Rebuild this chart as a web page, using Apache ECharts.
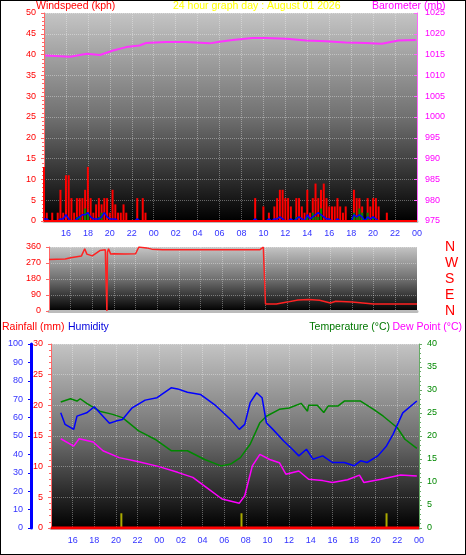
<!DOCTYPE html>
<html><head><meta charset="utf-8">
<script src="https://cdn.jsdelivr.net/npm/echarts@6/dist/echarts.min.js"></script>
<style>html,body{margin:0;padding:0;background:#fff}#c{width:466px;height:555px;box-sizing:border-box;border:1px solid #000}</style>
</head><body><div id="c"></div>
<script>
// wind gusts, 0.25 h steps starting at hour 14.0 (hours past midnight of day 1)
const windStart = 14.0, windStep = 0.25;
const windGust = [13,2,0,2,0,2,7.5,2, 11,11,5.5,2,5.5,5.5,5.5,7.5, 13,5.5,2,4,5.5,4,5.5,5.5, 2,7.5,4,2,2,4,2,0, 0,0,5.5,0,5.5,2,0,0,
 0,0,0,0,0,0,0,0,0,0,0,0,0,0,0,0,0,0,0,0,0,0,0,0,0,0,0,0,0,0,0,0,0,0,0,0,
 0,5.5,0,0, 3.5,0,2,0,3.5,5.5,7.5,7.5, 5.5,5.5,3.5,0,5.5,5.5,3.5,2, 7.5,2,5.5,9,5.5,7.5,9,5.5, 3.5,3.5,3.5,5.5,3.5,2,3.5,0, 0,7.5,5.5,5.5,3.5,0,5.5,3.5, 5.5,5.5,3.5,0,0,2,0,0, 0,0,0,0,0,0,0,0,0];
const windAvg = [0.5,0.5,0,0,0,0,0.5,0.5, 1.5,0.5,0,0,0.5,1,1.5,1.5, 2,1,0.5,0.5,0.5,1,2,1, 0.5,0.5,0.5,0,0,0,0,0, 0,0,0.5,0,0,0,0,0,
 0,0,0,0,0,0,0,0,0,0,0,0,0,0,0,0,0,0,0,0,0,0,0,0,0,0,0,0,0,0,0,0,0,0,0,0,
 0,0.5,0,0, 0,0,0.5,0,0.5,0.5,1,0.5, 0,0,0.5,0,0.5,1,0.5,0, 1.5,0.5,1,1.5,2,1.5,1,0.5, 0.5,0,0,0.5,0,0,0,0, 0,1.5,1,1.5,1,0,1,0.5, 1,0.5,0,0,0,0,0,0, 0,0,0,0,0,0,0,0,0];
const windDir2 = [0,0,0,0,0,0,0,0, 0,0,0,0,1,1,0,3, 2,0,0,0,1,2,0,0, 0,0,0,0,0,0,0,0, 0,0,0,0,0,0,0,0,
 0,0,0,0,0,0,0,0,0,0,0,0,0,0,0,0,0,0,0,0,0,0,0,0,0,0,0,0,0,0,0,0,0,0,0,0,
 0,0,0,0, 0,0,0,0,0,0,0,0, 0,0,0,0,1,0,0,0, 1,0,2,1,1,3,0,0, 0,0,0,0,0,0,0,0, 0,2,1,3,2,0,2,0, 1,0,0,0,0,0,0,0, 0,0,0,0,0,0,0,0,0];

const baroHours = [14.1,16.4,17.9,19.1,20.3,21.5,22.7,23.3,25.1,26.9,29.1,30.0,31.2,33.0,34.2,36.1,37.9,39.7,41.5,43.3,44.8,46.3,47.9];
const baroVals  = [1014.8,1014.5,1015.2,1014.9,1016.0,1016.8,1017.2,1017.8,1018.0,1018.0,1017.7,1018.1,1018.5,1019.0,1019.0,1018.8,1018.4,1018.2,1017.9,1017.8,1017.6,1018.4,1018.5];

const dirHours = [14.0,15.5,16.0,17.0,17.3,17.5,18.0,18.7,19.2,19.35,19.4,19.5,19.7,20.0,21.0,22.0,22.3,23.0,23.5,24.5,33.5,33.8,33.9,34.0,35.0,36.0,37.0,38.0,39.0,40.0,40.5,42.0,43.0,44.0,48.0];
const dirVals  = [290,292,300,310,350,320,310,340,345,0,330,350,320,322,320,322,360,355,348,345,345,360,360,40,40,50,62,65,60,45,55,50,45,40,40];

const tempHours = [14.9,15.8,16.4,16.7,17.3,18.5,19.7,20.6,22.1,23.6,25.1,26.6,28.2,29.7,30.6,31.5,32.4,33.3,33.9,35.1,36.0,37.1,37.7,37.8,38.6,39.2,39.6,40.5,41.1,42.0,42.6,43.8,44.7,46.0,46.7,47.8];
const tempVals  = [27.4,28.1,27.6,28.1,27.1,25.4,24.7,24.0,21.1,19.3,16.8,16.8,14.9,13.5,13.9,15.3,18.2,22.9,24.3,25.8,26.1,27.1,25.4,26.7,26.7,25.1,26.5,26.5,27.6,27.6,27.6,25.8,24.3,21.8,19.3,17.3];
const humHours = [14.9,15.3,16.1,16.4,17.3,18.0,18.5,19.4,20.0,20.6,21.5,22.7,23.8,25.1,25.7,26.6,27.8,29.1,30.6,31.4,31.9,32.4,33.0,33.5,33.9,34.5,35.5,36.3,36.9,37.6,38.2,39.1,40.0,41.1,42.0,42.6,43.2,44.2,45.0,45.6,46.5,47.8];
const humVals  = [62.6,56.3,53.6,60.8,62.6,65.9,62.6,56.9,58.1,59.0,65.3,69.5,70.8,76.2,75.6,73.8,72.6,67.1,59.0,53.6,56.3,68.1,73.5,70.8,57.2,53.6,47.3,42.8,39.2,42.8,37.4,39.2,35.6,35.6,33.8,36.5,35.6,39.2,44.6,50.9,62.6,69.0];
const dewHours = [14.9,16.1,16.6,17.9,18.8,20.3,22.1,23.9,25.7,27.1,28.6,29.8,31.4,31.9,32.6,33.3,34.2,35.1,35.7,36.9,37.8,39.1,40.0,41.4,42.5,42.9,44.5,46.3,47.8];
const dewVals  = [19.4,17.8,19.4,18.7,16.8,15.3,14.4,13.4,12.1,11.0,8.4,6.3,5.4,7.0,13.5,16.0,14.9,14.2,11.7,12.4,10.6,10.3,9.9,10.5,11.5,9.9,10.6,11.5,11.3];
const rainHours = [14.0,48.0];
const rainVals  = [0,0];
const rainMarkHours = [20.5,31.6,45.0];
const rainMarkVals  = [2.4,2.4,2.4];

const xTickInterval = 2;
const titleText = '24 hour graph day : August 01 2026';

const pair = (h, v) => h.map((x, i) => [x, v[i]]);
const stepPair = arr => arr.map((v, i) => [windStart + i * windStep, v]);

const F = 'Liberation Sans, Arial, sans-serif';
const bg = {type:'linear',x:0,y:0,x2:0,y2:1,colorStops:[{offset:0,color:'#c4c4c4'},{offset:0.5,color:'#707070'},{offset:1,color:'#000'}]};
const split = {show:true,lineStyle:{color:'rgba(255,255,255,0.35)',type:'dotted',width:1}};
function xAx(gi, showLabel){
  return {type:'value',gridIndex:gi,min:14,max:48,interval:xTickInterval,
    axisLine:{show:true,lineStyle:{color:'#bbb',width:3}},axisTick:{show:false},
    splitLine:split,
    axisLabel:{show:showLabel,showMinLabel:false,color:'#3333ff',fontSize:9,fontFamily:F,
      formatter:v=>String(v%24).padStart(2,'0')}};
}
const grids = [
  {left:43,right:48,top:12,height:208,show:true,backgroundColor:bg,borderWidth:0},
  {left:48,right:48,top:246,height:64,show:true,backgroundColor:bg,borderWidth:0},
  {left:50,right:46,top:343,height:184,show:true,backgroundColor:bg,borderWidth:0}
];
const dirNames = {0:'N',90:'E',180:'S',270:'W',360:'N'};
const chart = echarts.init(document.getElementById('c'));
chart.setOption({
  animation:false,
  backgroundColor:'#fff',
  grid:grids,
  graphic:[
    {type:'text',left:35,top:0,style:{text:'Windspeed (kph)',fill:'#ff0000',font:'10.5px '+F}},
    {type:'text',left:172,top:0,style:{text:titleText,fill:'#ffff00',font:'10.5px '+F}},
    {type:'text',left:371,top:0,style:{text:'Barometer (mb)',fill:'#ff00ff',font:'10.5px '+F}},
    {type:'text',left:1,top:321,style:{text:'Rainfall (mm)',fill:'#ff0000',font:'10.5px '+F}},
    {type:'text',left:67,top:321,style:{text:'Humidity',fill:'#0000dd',font:'10.5px '+F}},
    {type:'text',right:75,top:321,style:{text:'Temperature (°C)',fill:'#007700',font:'10.5px '+F}},
    {type:'text',right:3,top:321,style:{text:'Dew Point (°C)',fill:'#ff00ff',font:'10.5px '+F}}
  ],
  xAxis:[xAx(0,true),xAx(1,false),xAx(2,true)],
  yAxis:[
    {type:'value',gridIndex:0,min:0,max:50,interval:5,position:'left',
     axisLine:{show:true,lineStyle:{color:'#ff6666',width:1}},axisTick:{show:true,length:3,lineStyle:{color:'#ff6666'}},minorTick:{show:true,splitNumber:5,length:2,lineStyle:{color:'#ff6666'}},
     axisLabel:{color:'#ff0000',fontSize:9,fontFamily:F},splitLine:split},
    {type:'value',gridIndex:0,min:975,max:1025,interval:5,position:'right',
     axisLine:{show:true,lineStyle:{color:'#ff66ff'}},axisTick:{show:true,length:3,inside:true},
     axisLabel:{color:'#ff00ff',fontSize:9,fontFamily:F,formatter:v=>String(v)},splitLine:{show:false}},
    {type:'value',gridIndex:1,min:0,max:360,interval:90,position:'left',
     axisLine:{show:true,lineStyle:{color:'#ff6666'}},axisTick:{show:true,length:3},
     axisLabel:{color:'#ff0000',fontSize:9,fontFamily:F},splitLine:split},
    {type:'value',gridIndex:1,min:0,max:360,interval:90,position:'right',offset:20,
     axisLine:{show:false},axisTick:{show:false},
     axisLabel:{color:'#ff0000',fontSize:14,fontFamily:F,formatter:v=>dirNames[v]},splitLine:{show:false}},
    {type:'value',gridIndex:2,min:0,max:30,interval:5,position:'left',
     axisLine:{show:true,lineStyle:{color:'#ff6666'}},axisTick:{show:true,length:3},minorTick:{show:true,splitNumber:5,length:2,lineStyle:{color:'#ff6666'}},
     axisLabel:{color:'#ff0000',fontSize:9,fontFamily:F},splitLine:split},
    {type:'value',gridIndex:2,min:0,max:100,interval:10,position:'left',offset:20,
     axisLine:{show:true,lineStyle:{color:'#0000ff',width:3}},axisTick:{show:true,length:3,lineStyle:{color:'#0000ff',width:1}},
     axisLabel:{color:'#3333ff',fontSize:9,fontFamily:F},splitLine:{show:false}},
    {type:'value',gridIndex:2,min:0,max:40,interval:5,position:'right',
     axisLine:{show:true,lineStyle:{color:'#66aa66'}},axisTick:{show:true,length:3,lineStyle:{color:'#66aa66'}},minorTick:{show:true,splitNumber:5,length:2,lineStyle:{color:'#66aa66'}},
     axisLabel:{color:'#008800',fontSize:9,fontFamily:F},splitLine:{show:false}}
  ],
  series:[
    {type:'bar',xAxisIndex:0,yAxisIndex:0,data:stepPair(windGust),barWidth:2,itemStyle:{color:'#ff0000'},barGap:'-100%'},
    {type:'bar',xAxisIndex:0,yAxisIndex:0,data:stepPair(windDir2),barWidth:2,itemStyle:{color:'#008800'}},
    {type:'line',xAxisIndex:0,yAxisIndex:0,data:stepPair(windAvg),showSymbol:false,lineStyle:{color:'#0000ff',width:1.5}},
    {type:'line',xAxisIndex:0,yAxisIndex:0,data:[[14,0],[48,0]],showSymbol:false,lineStyle:{color:'#ff0000',width:2}},
    {type:'line',xAxisIndex:0,yAxisIndex:1,data:pair(baroHours,baroVals),showSymbol:false,lineStyle:{color:'#ff33ff',width:2}},
    {type:'line',xAxisIndex:1,yAxisIndex:2,data:pair(dirHours,dirVals),showSymbol:false,lineStyle:{color:'#ff2222',width:1.5}},
    {type:'line',xAxisIndex:2,yAxisIndex:6,data:pair(tempHours,tempVals),showSymbol:false,lineStyle:{color:'#008800',width:1.5}},
    {type:'line',xAxisIndex:2,yAxisIndex:5,data:pair(humHours,humVals),showSymbol:false,lineStyle:{color:'#0000ff',width:1.5}},
    {type:'line',xAxisIndex:2,yAxisIndex:6,data:pair(dewHours,dewVals),showSymbol:false,lineStyle:{color:'#ff00ff',width:1.5}},
    {type:'line',xAxisIndex:2,yAxisIndex:4,data:pair(rainHours,rainVals),showSymbol:false,lineStyle:{color:'#ff0000',width:3}},
    {type:'bar',xAxisIndex:2,yAxisIndex:4,data:pair(rainMarkHours,rainMarkVals),barWidth:2,itemStyle:{color:'#aaaa00'}}
  ]
});
</script></body></html>
